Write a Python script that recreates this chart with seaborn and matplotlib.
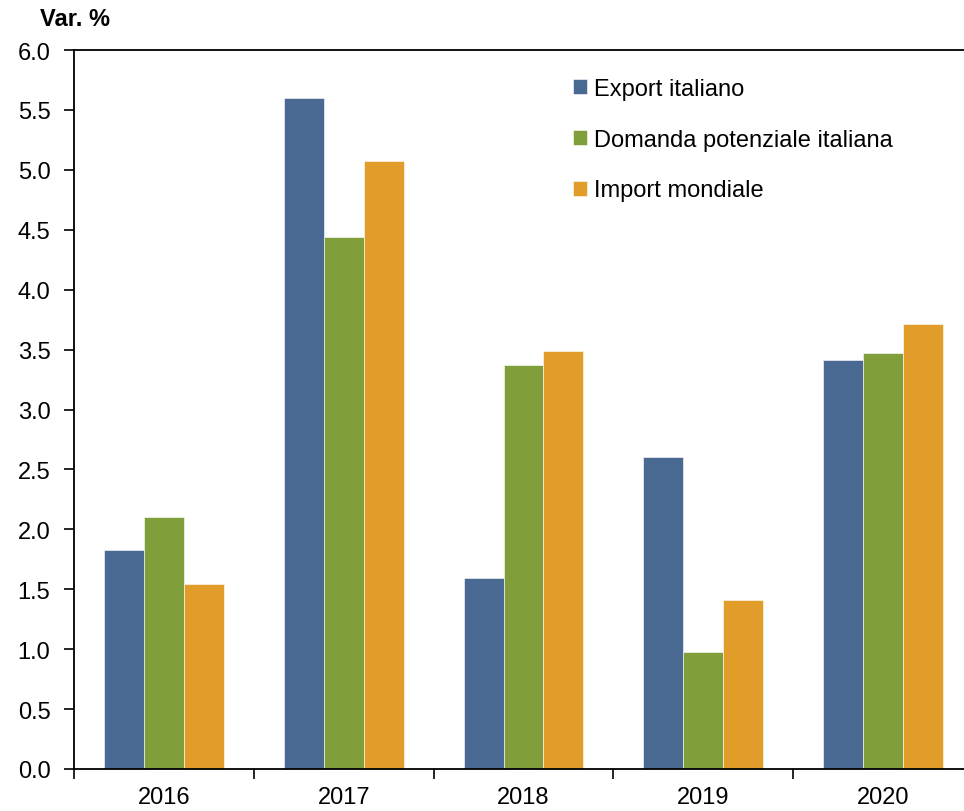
import matplotlib
matplotlib.use("Agg")
import matplotlib.pyplot as plt
from matplotlib.ticker import FixedLocator, FormatStrFormatter
import seaborn as sns
import pandas as pd

years = ["2016", "2017", "2018", "2019", "2020"]
series = ["Export italiano", "Domanda potenziale italiana", "Import mondiale"]
export_it = [1.83, 5.60, 1.59, 2.60, 3.41]
domanda_pot = [2.10, 4.44, 3.37, 0.98, 3.47]
import_mond = [1.54, 5.07, 3.49, 1.41, 3.71]
colors = ["#496892", "#809E3A", "#E19C29"]

df = pd.DataFrame({
    "anno": years * 3,
    "serie": [s for s in series for _ in years],
    "valore": export_it + domanda_pot + import_mond,
})

sns.set_theme(style="white")
plt.rcParams["font.family"] = ["Liberation Sans", "DejaVu Sans"]
plt.rcParams["text.color"] = "black"

fig = plt.figure(figsize=(9.64, 8.12), dpi=100)
ax = fig.add_axes([74 / 964, 42 / 812, 890 / 964, 719 / 812])

sns.barplot(data=df, x="anno", y="valore", hue="serie", hue_order=series,
            palette=colors, width=0.667, gap=0, saturation=1,
            edgecolor="white", linewidth=0.4, ax=ax)

ax.set_xlim(-0.5, -0.5 + 890 / 179.8)
ax.set_ylim(0, 6.0)
ax.set_yticks([i * 0.5 for i in range(13)])
ax.yaxis.set_major_formatter(FormatStrFormatter("%.1f"))
ax.set_xlabel("")
ax.set_ylabel("")

# category separators as minor ticks, labels centred without marks
ax.xaxis.set_minor_locator(FixedLocator([i - 0.5 for i in range(len(years) + 1)]))
ax.tick_params(axis="x", which="major", length=0, pad=12, labelsize=17,
               labelcolor="black")
ax.tick_params(axis="x", which="minor", length=7, width=1.2, direction="out",
               color="black", bottom=True)
ax.tick_params(axis="y", which="major", length=7, width=1.2, direction="out",
               color="black", left=True, labelsize=17, pad=10, labelcolor="black")

for side in ["left", "bottom", "top"]:
    ax.spines[side].set_visible(True)
    ax.spines[side].set_color("black")
    ax.spines[side].set_linewidth(1.3)
ax.spines["right"].set_visible(False)

fig.text(40 / 964, 1 - 20 / 812, "Var. %", fontsize=17, fontweight="bold",
         va="center", ha="left", color="black")

leg = ax.legend(loc="upper left", bbox_to_anchor=(0.537, 0.991), frameon=False,
                fontsize=17, handlelength=0.6, handleheight=0.6,
                handletextpad=0.3, labelspacing=1.22, labelcolor="black")

fig.savefig("out.png", dpi=100)
